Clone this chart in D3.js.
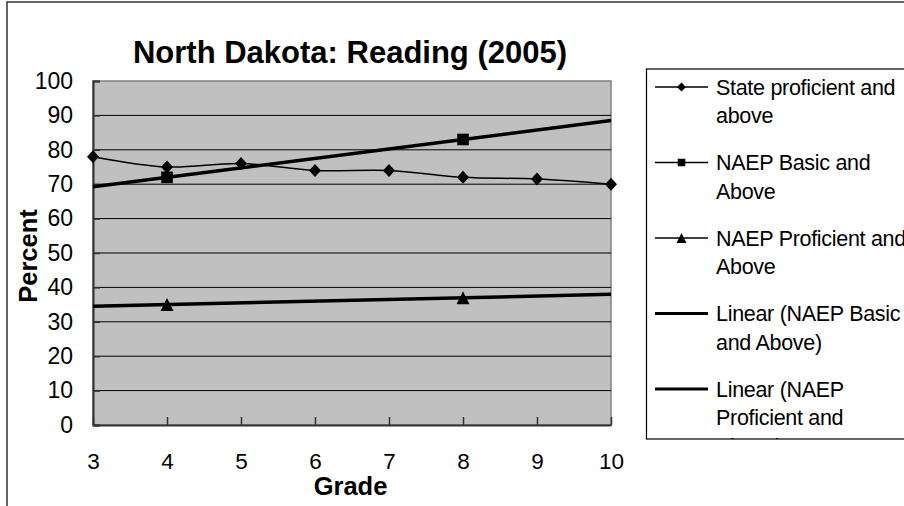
<!DOCTYPE html>
<html>
<head>
<meta charset="utf-8">
<script src="https://cdn.jsdelivr.net/npm/d3@7"></script>
<style>
  html, body { margin: 0; padding: 0; background: #fff; }
  svg { display: block; font-family: "Liberation Sans", Arial, sans-serif; }
</style>
</head>
<body>
<svg id="chart" width="904" height="506"></svg>
<script>
// ---- Data ----
const grades = [3, 4, 5, 6, 7, 8, 9, 10];
const stateProficient = [78, 75, 76, 74, 74, 72, 71.5, 70];
const naepBasic = [null, 72, null, null, null, 83, null, null];
const naepProficient = [null, 35, null, null, null, 37, null, null];
const yTicks = [0, 10, 20, 30, 40, 50, 60, 70, 80, 90, 100];
const titleText = "North Dakota: Reading (2005)";
const xTitle = "Grade";
const yTitle = "Percent";
const legendLabels = [
  ["State proficient and", "above"],
  ["NAEP Basic and", "Above"],
  ["NAEP Proficient and", "Above"],
  ["Linear (NAEP Basic", "and Above)"],
  ["Linear (NAEP", "Proficient and", "Above)"]
];

// ---- Layout ----
const svg = d3.select("#chart");
const plot = { left: 93, right: 611, top: 81, bottom: 425 };

const x = d3.scalePoint().domain(grades).range([plot.left, plot.right]).padding(0);
const y = d3.scaleLinear().domain([0, 100]).range([plot.bottom, plot.top]);

// custom symbols (Excel-like)
function diamondType(hw, hh) {
  return { draw(ctx) { ctx.moveTo(0, -hh); ctx.lineTo(hw, 0); ctx.lineTo(0, hh); ctx.lineTo(-hw, 0); ctx.closePath(); } };
}
function squareType(h) {
  return { draw(ctx) { ctx.rect(-h, -h, 2 * h, 2 * h); } };
}
function triType(hw, hh) {
  return { draw(ctx) { ctx.moveTo(0, -hh); ctx.lineTo(hw, hh); ctx.lineTo(-hw, hh); ctx.closePath(); } };
}

// outer chart border
svg.append("rect").attr("x", 7).attr("y", 2).attr("width", 910).attr("height", 520)
  .attr("fill", "none").attr("stroke", "#333").attr("stroke-width", 1.5);

// plot area background
svg.append("rect").attr("x", plot.left).attr("y", plot.top)
  .attr("width", plot.right - plot.left).attr("height", plot.bottom - plot.top)
  .attr("fill", "#c0c0c0").attr("stroke", "#808080").attr("stroke-width", 1.5);

// gridlines
svg.append("g").selectAll("line").data(yTicks.filter(d => d > 0 && d < 100)).join("line")
  .attr("x1", plot.left).attr("x2", plot.right)
  .attr("y1", d => y(d)).attr("y2", d => y(d))
  .attr("stroke", "#000").attr("stroke-width", 1);

// Y axis
const yAxis = svg.append("g").attr("transform", `translate(${plot.left},0)`)
  .call(d3.axisLeft(y).tickValues(yTicks).tickSize(-7).tickPadding(20));
yAxis.select(".domain").attr("stroke", "#333").attr("stroke-width", 2);
yAxis.selectAll(".tick line").attr("stroke", "#333").attr("stroke-width", 1.5);
yAxis.selectAll(".tick text").attr("font-size", 23).attr("fill", "#000")
  .attr("font-family", "Liberation Sans, Arial, sans-serif");

// X axis
const xAxis = svg.append("g").attr("transform", `translate(0,${plot.bottom})`)
  .call(d3.axisBottom(x).tickSize(-8).tickPadding(28).tickSizeOuter(0));
xAxis.select(".domain").attr("stroke", "#333").attr("stroke-width", 2);
xAxis.selectAll(".tick line").attr("stroke", "#333").attr("stroke-width", 1.5);
xAxis.selectAll(".tick text").attr("font-size", 22.5).attr("fill", "#000")
  .attr("font-family", "Liberation Sans, Arial, sans-serif");

// ---- Trend lines (least squares from data) ----
function fit(vals) {
  const pts = grades.map((g, i) => [g, vals[i]]).filter(p => p[1] != null);
  const mx = d3.mean(pts, p => p[0]), my = d3.mean(pts, p => p[1]);
  const b = d3.sum(pts, p => (p[0] - mx) * (p[1] - my)) / d3.sum(pts, p => (p[0] - mx) ** 2);
  const a = my - b * mx;
  const g0 = grades[0], g1 = grades[grades.length - 1];
  return [[g0, a + b * g0], [g1, a + b * g1]];
}
const lineLin = d3.line().x(d => x(d[0])).y(d => y(d[1]));
[naepBasic, naepProficient].forEach(vals => {
  svg.append("path").attr("d", lineLin(fit(vals)))
    .attr("fill", "none").attr("stroke", "#000").attr("stroke-width", 3.5);
});

// ---- State line (smoothed) ----
const smooth = d3.line().x((d, i) => x(grades[i])).y(d => y(d)).curve(d3.curveCatmullRom.alpha(0.5));
svg.append("path").attr("d", smooth(stateProficient))
  .attr("fill", "none").attr("stroke", "#000").attr("stroke-width", 1.5);

// markers
const diamond = d3.symbol().type(diamondType(6, 6.5));
const square = d3.symbol().type(squareType(5.8));
const triangle = d3.symbol().type(triType(6.5, 6.5));

svg.append("g").selectAll("path").data(stateProficient).join("path")
  .attr("d", diamond).attr("transform", (d, i) => `translate(${x(grades[i])},${y(d)})`)
  .attr("fill", "#000");
svg.append("g").selectAll("path")
  .data(grades.map((g, i) => [g, naepBasic[i]]).filter(p => p[1] != null)).join("path")
  .attr("d", square).attr("transform", d => `translate(${x(d[0])},${y(d[1])})`).attr("fill", "#000");
svg.append("g").selectAll("path")
  .data(grades.map((g, i) => [g, naepProficient[i]]).filter(p => p[1] != null)).join("path")
  .attr("d", triangle).attr("transform", d => `translate(${x(d[0])},${y(d[1])})`).attr("fill", "#000");

// ---- Titles ----
svg.append("text").attr("x", 350).attr("y", 63).attr("text-anchor", "middle")
  .attr("font-size", 31).attr("font-weight", "bold").text(titleText);
svg.append("text").attr("x", 350.5).attr("y", 495).attr("text-anchor", "middle")
  .attr("font-size", 25.5).attr("font-weight", "bold").text(xTitle);
svg.append("text").attr("transform", "translate(37,256) rotate(-90)").attr("text-anchor", "middle")
  .attr("font-size", 25.5).attr("font-weight", "bold").text(yTitle);

// ---- Legend ----
const lg = { x: 646.5, y: 69, bottom: 439 };
svg.append("defs").append("clipPath").attr("id", "legclip")
  .append("rect").attr("x", lg.x).attr("y", lg.y).attr("width", 904 - lg.x).attr("height", lg.bottom - lg.y);
svg.append("rect").attr("x", lg.x).attr("y", lg.y).attr("width", 300).attr("height", lg.bottom - lg.y)
  .attr("fill", "#fff").attr("stroke", "#000").attr("stroke-width", 1.2);
const legG = svg.append("g").attr("clip-path", "url(#legclip)");
const legSyms = [
  d3.symbol().type(diamondType(4.5, 4.5)),
  d3.symbol().type(squareType(3.8)),
  d3.symbol().type(triType(5, 5)),
  null, null
];
legendLabels.forEach((lines, i) => {
  const y0 = 87 + i * 75.5;
  const trend = i >= 3;
  legG.append("line").attr("x1", 655).attr("x2", 708).attr("y1", y0).attr("y2", y0)
    .attr("stroke", "#000").attr("stroke-width", trend ? 3 : 1.5);
  if (legSyms[i]) {
    legG.append("path").attr("d", legSyms[i]).attr("transform", `translate(681.5,${y0})`).attr("fill", "#000");
  }
  lines.forEach((t, j) => {
    legG.append("text").attr("x", 716).attr("y", y0 + 7.5 + j * 28.5)
      .attr("font-size", 21.5).attr("letter-spacing", -0.3).attr("fill", "#000").text(t);
  });
});
</script>
</body>
</html>
